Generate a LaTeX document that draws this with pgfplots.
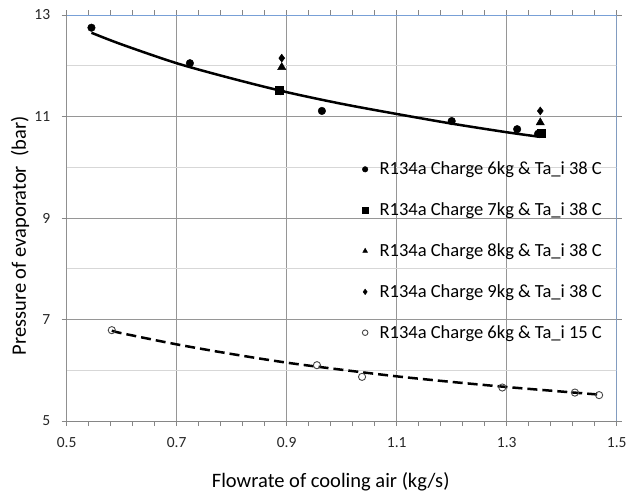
\documentclass[border=0pt]{standalone}
\usepackage{fontspec}
\setmainfont{Carlito}
\usepackage{pgfplots}
\pgfplotsset{compat=1.18}

\definecolor{majgrid}{RGB}{150,150,150}
\definecolor{mingrid}{RGB}{215,215,215}
\definecolor{axgray}{RGB}{134,134,134}
\definecolor{frameblue}{RGB}{120,160,215}
\definecolor{opengray}{RGB}{70,70,70}

\begin{document}
\begin{tikzpicture}
\useasboundingbox (-66.7pt,-75pt) rectangle (567.3pt,421pt);
\begin{axis}[
  scale only axis,
  width=550pt, height=406pt,
  xmin=0.5, xmax=1.5,
  ymin=5, ymax=13,
  xtick={0.5,0.7,...,1.5},
  ytick={5,7,9,11,13},
  minor x tick num=4,
  minor ytick={6,8,10,12},
  xticklabels={0.5,0.7,0.9,1.1,1.3,1.5},
  /pgf/number format/assume math mode=true,
  tick align=outside,
  major tick length=5pt,
  minor tick length=5pt,
  xtick style={axgray, line width=0.8pt},
  ytick style={axgray, line width=0.8pt},
  minor y tick style={draw=none},
  ymajorgrids, yminorgrids, xmajorgrids,
  major grid style={majgrid, line width=0.8pt},
  minor grid style={mingrid, line width=0.8pt},
  axis line style={draw=none},
  ticklabel style={font=\fontsize{15.5}{18}\selectfont, text=black!85},
  xticklabel style={yshift=-8pt},
  yticklabel style={xshift=-8pt},
  xlabel={Flowrate of cooling air (kg/s)},
  ylabel={Pressure of evaporator\ \ (bar)},
  label style={font=\fontsize{20.5}{24}\selectfont},
  xlabel style={at={(axis description cs:0.48,-0.15)}, anchor=center},
  ylabel style={at={(axis description cs:-0.085,0.456)}, anchor=center, rotate=0},
  legend style={draw=none, fill=none, at={(axis description cs:0.535,0.643)}, anchor=north west,
    font=\fontsize{18.5}{22}\selectfont, row sep=22.5pt, inner sep=0pt},
  legend cell align=left,
  legend image code/.code={
    \path[draw=none, fill=none] (0pt,0pt) -- (16.5pt,0pt);
    \draw[#1, mark size=2.8pt] plot coordinates {(4pt,0pt)};},
]
% 6 kg, Ta_i 38 C
\addplot[only marks, mark=*, mark size=3.8pt, mark options={fill=black, draw=black}]
  coordinates {(0.545,12.75) (0.724,12.05) (0.889,11.50) (0.964,11.11) (1.200,10.91) (1.319,10.75) (1.357,10.66)};
\addlegendentry{R134a Charge 6kg \& Ta\_i 38 C}

% trend lines
\addplot[black, line width=2.5pt, smooth, forget plot] coordinates {
  (0.545,12.65) (0.6,12.42) (0.7,12.05) (0.8,11.75) (0.9,11.48) (1.0,11.25)
  (1.1,11.05) (1.2,10.86) (1.3,10.69) (1.36,10.60)};
\addplot[black, line width=2.5pt, smooth, dash pattern=on 10pt off 5pt, forget plot] coordinates {
  (0.582,6.78) (0.6,6.73) (0.7,6.51) (0.8,6.32) (0.9,6.15) (1.0,6.01)
  (1.1,5.88) (1.2,5.77) (1.3,5.67) (1.4,5.58) (1.468,5.52)};

% 7 kg
\addplot[only marks, mark=square*, mark size=4pt, mark options={fill=black, draw=black}]
  coordinates {(0.887,11.52) (1.362,10.67)};
\addlegendentry{R134a Charge 7kg \& Ta\_i 38 C}
% 8 kg
\addplot[only marks, mark=triangle*, mark size=4.8pt, mark options={fill=black, draw=black}]
  coordinates {(0.891,11.97) (1.361,10.88)};
\addlegendentry{R134a Charge 8kg \& Ta\_i 38 C}
% 9 kg
\addplot[only marks, mark=diamond*, mark size=4pt, mark options={fill=black, draw=black}]
  coordinates {(0.891,12.15) (1.361,11.11)};
\addlegendentry{R134a Charge 9kg \& Ta\_i 38 C}
% 6 kg, Ta_i 15 C
\addplot[only marks, mark=o, mark size=3.6pt, mark options={fill=white, draw=opengray, line width=0.9pt}]
  coordinates {(0.582,6.79) (0.955,6.10) (1.037,5.87) (1.292,5.66) (1.424,5.56) (1.468,5.51)};
\addlegendentry{R134a Charge 6kg \& Ta\_i 15 C}

\draw[frameblue, line width=0.8pt] (rel axis cs:0,1) -- (rel axis cs:1,1) -- (rel axis cs:1,0);
\draw[axgray, line width=0.9pt] (rel axis cs:0,1) -- (rel axis cs:0,0) -- (rel axis cs:1,0);
\end{axis}
\end{tikzpicture}
\end{document}
